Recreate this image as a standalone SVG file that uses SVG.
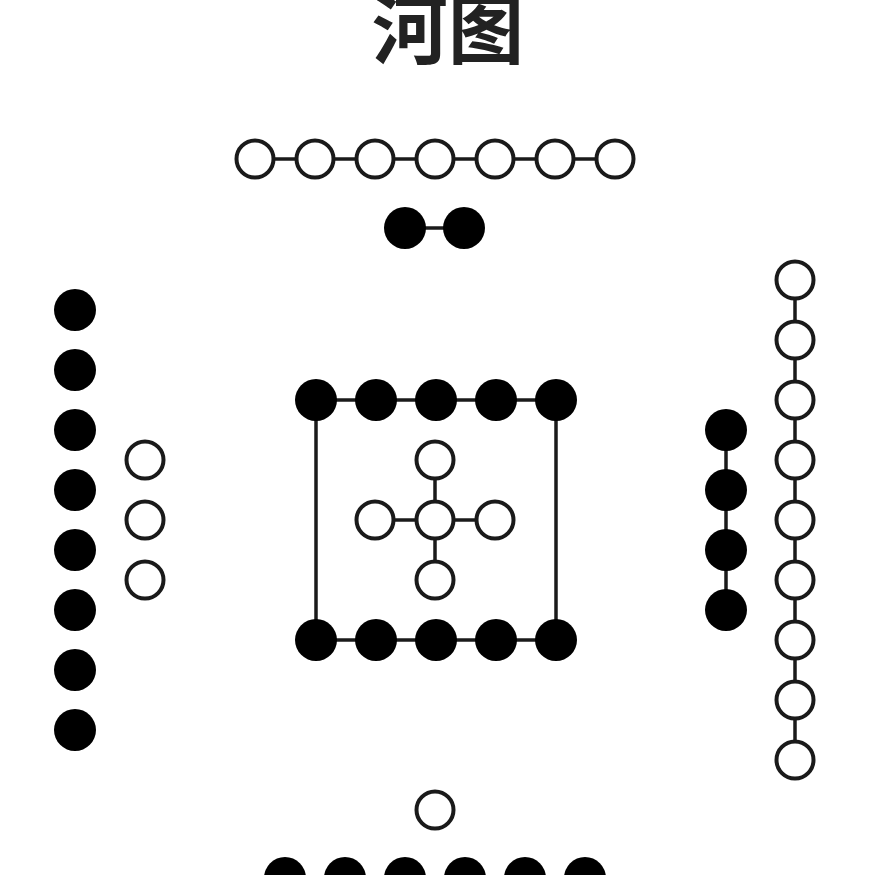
<svg xmlns="http://www.w3.org/2000/svg" width="875" height="875" viewBox="0 0 875 875">
<style>
.w{fill:#fff;stroke:#1a1a1a;stroke-width:4}
.b{fill:#000}
.c{stroke:#1a1a1a;stroke-width:3.5;fill:none}
.t{font-family:"Noto Sans CJK SC","Noto Sans",sans-serif;font-weight:bold;font-size:76px;fill:#222}
</style>
<rect width="875" height="875" fill="#fff"/>
<text class="t" x="448" y="58" text-anchor="middle">河图</text>
<g id="connectors">
<line class="c" x1="255" y1="159" x2="615" y2="159"/>
<line class="c" x1="405" y1="228" x2="464" y2="228"/>
<line class="c" x1="316" y1="400" x2="556" y2="400"/>
<line class="c" x1="316" y1="640" x2="556" y2="640"/>
<line class="c" x1="316" y1="400" x2="316" y2="640"/>
<line class="c" x1="556" y1="400" x2="556" y2="640"/>
<line class="c" x1="375" y1="520" x2="495" y2="520"/>
<line class="c" x1="435" y1="460" x2="435" y2="580"/>
<line class="c" x1="726" y1="430" x2="726" y2="610"/>
<line class="c" x1="795" y1="280" x2="795" y2="760"/>
</g>
<g id="top-white-7">
<circle class="w" cx="255" cy="159" r="18.5"/><circle class="w" cx="315" cy="159" r="18.5"/><circle class="w" cx="375" cy="159" r="18.5"/><circle class="w" cx="435" cy="159" r="18.5"/><circle class="w" cx="495" cy="159" r="18.5"/><circle class="w" cx="555" cy="159" r="18.5"/><circle class="w" cx="615" cy="159" r="18.5"/>
</g>
<g id="top-black-2">
<circle class="b" cx="405" cy="228" r="21"/><circle class="b" cx="464" cy="228" r="21"/>
</g>
<g id="left-black-8">
<circle class="b" cx="75" cy="310" r="21"/><circle class="b" cx="75" cy="370" r="21"/><circle class="b" cx="75" cy="430" r="21"/><circle class="b" cx="75" cy="490" r="21"/><circle class="b" cx="75" cy="550" r="21"/><circle class="b" cx="75" cy="610" r="21"/><circle class="b" cx="75" cy="670" r="21"/><circle class="b" cx="75" cy="730" r="21"/>
</g>
<g id="left-white-3">
<circle class="w" cx="145" cy="460" r="18.5"/><circle class="w" cx="145" cy="520" r="18.5"/><circle class="w" cx="145" cy="580" r="18.5"/>
</g>
<g id="center-black-10">
<circle class="b" cx="316" cy="400" r="21"/><circle class="b" cx="376" cy="400" r="21"/><circle class="b" cx="436" cy="400" r="21"/><circle class="b" cx="496" cy="400" r="21"/><circle class="b" cx="556" cy="400" r="21"/>
<circle class="b" cx="316" cy="640" r="21"/><circle class="b" cx="376" cy="640" r="21"/><circle class="b" cx="436" cy="640" r="21"/><circle class="b" cx="496" cy="640" r="21"/><circle class="b" cx="556" cy="640" r="21"/>
</g>
<g id="center-white-5">
<circle class="w" cx="435" cy="460" r="18.5"/><circle class="w" cx="375" cy="520" r="18.5"/><circle class="w" cx="435" cy="520" r="18.5"/><circle class="w" cx="495" cy="520" r="18.5"/><circle class="w" cx="435" cy="580" r="18.5"/>
</g>
<g id="right-black-4">
<circle class="b" cx="726" cy="430" r="21"/><circle class="b" cx="726" cy="490" r="21"/><circle class="b" cx="726" cy="550" r="21"/><circle class="b" cx="726" cy="610" r="21"/>
</g>
<g id="right-white-9">
<circle class="w" cx="795" cy="280" r="18.5"/><circle class="w" cx="795" cy="340" r="18.5"/><circle class="w" cx="795" cy="400" r="18.5"/><circle class="w" cx="795" cy="460" r="18.5"/><circle class="w" cx="795" cy="520" r="18.5"/><circle class="w" cx="795" cy="580" r="18.5"/><circle class="w" cx="795" cy="640" r="18.5"/><circle class="w" cx="795" cy="700" r="18.5"/><circle class="w" cx="795" cy="760" r="18.5"/>
</g>
<g id="bottom-white-1">
<circle class="w" cx="435" cy="810" r="18.5"/>
</g>
<g id="bottom-black-6">
<circle class="b" cx="285" cy="878" r="21"/><circle class="b" cx="345" cy="878" r="21"/><circle class="b" cx="405" cy="878" r="21"/><circle class="b" cx="465" cy="878" r="21"/><circle class="b" cx="525" cy="878" r="21"/><circle class="b" cx="585" cy="878" r="21"/>
</g>
</svg>
